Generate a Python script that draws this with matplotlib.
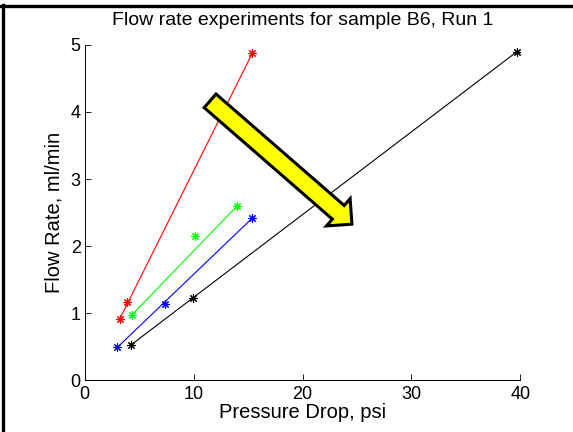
import matplotlib
matplotlib.use('Agg')
import matplotlib.pyplot as plt
from matplotlib.lines import Line2D
from matplotlib.patches import FancyArrowPatch
import numpy as np

# pressure drop (psi) and flow rate (ml/min) for each run
red_x = [3.2, 3.9, 15.4]
red_y = [0.91, 1.16, 4.88]
green_x = [4.3, 10.1, 14.0]
green_y = [0.97, 2.15, 2.60]
blue_x = [3.0, 7.4, 15.4]
blue_y = [0.49, 1.13, 2.42]
black_x = [4.2, 9.9, 39.7]
black_y = [0.52, 1.22, 4.90]

series = [(red_x, red_y, '#ff0000'),
          (green_x, green_y, '#00ff00'),
          (blue_x, blue_y, '#0000ff'),
          (black_x, black_y, '#000000')]

x_ticks = [0, 10, 20, 30, 40]
y_ticks = [0, 1, 2, 3, 4, 5]


def main():
    plt.rcParams['font.family'] = ['Liberation Sans', 'DejaVu Sans']
    fig = plt.figure(figsize=(5.73, 4.32), dpi=100)
    ax = fig.add_axes([0.148, 0.12, 0.76, 0.776])

    for x, y, c in series:
        x = np.array(x)
        y = np.array(y)
        ax.plot(x[[0, -1]], y[[0, -1]], color=c, lw=0.8)
        ax.plot(x, y, linestyle='none', marker=(8, 2, 0), color=c, ms=6, mew=0.8)

    ax.set_xlim(0, 40)
    ax.set_ylim(0, 5)
    ax.set_xticks(x_ticks)
    ax.set_yticks(y_ticks)
    ax.tick_params(direction='in', length=4, width=0.6, labelsize=13)
    ax.tick_params(axis='x', pad=4)
    ax.tick_params(axis='y', pad=3)
    ax.spines['top'].set_visible(False)
    ax.spines['right'].set_visible(False)
    ax.spines['left'].set_linewidth(0.7)
    ax.spines['bottom'].set_linewidth(0.7)

    ax.set_title('Flow rate experiments for sample B6, Run 1', fontsize=14, pad=14)
    ax.set_xlabel('Pressure Drop, psi', fontsize=14.5, labelpad=0)
    ax.set_ylabel('Flow Rate, ml/min', fontsize=14.5, labelpad=5)

    # yellow arrow drawn on top of the plot
    arrow = FancyArrowPatch((208 / 573, 1 - 99 / 432), (354 / 573, 1 - 226 / 432),
                            transform=fig.transFigure,
                            arrowstyle='simple,tail_width=13,head_width=26,head_length=13',
                            mutation_scale=1, facecolor='#ffff00', edgecolor='black',
                            lw=2.2, joinstyle='miter', zorder=5)
    fig.patches.append(arrow)

    # frame around the figure
    fig.add_artist(Line2D([2.5 / 573, 2.5 / 573], [0, 1 - 5 / 432],
                          transform=fig.transFigure, color='black', lw=2.4))
    fig.add_artist(Line2D([0, 1], [1 - 6 / 432, 1 - 6 / 432],
                          transform=fig.transFigure, color='black', lw=2.4))

    fig.savefig('out.png', dpi=100)


if __name__ == '__main__':
    main()
